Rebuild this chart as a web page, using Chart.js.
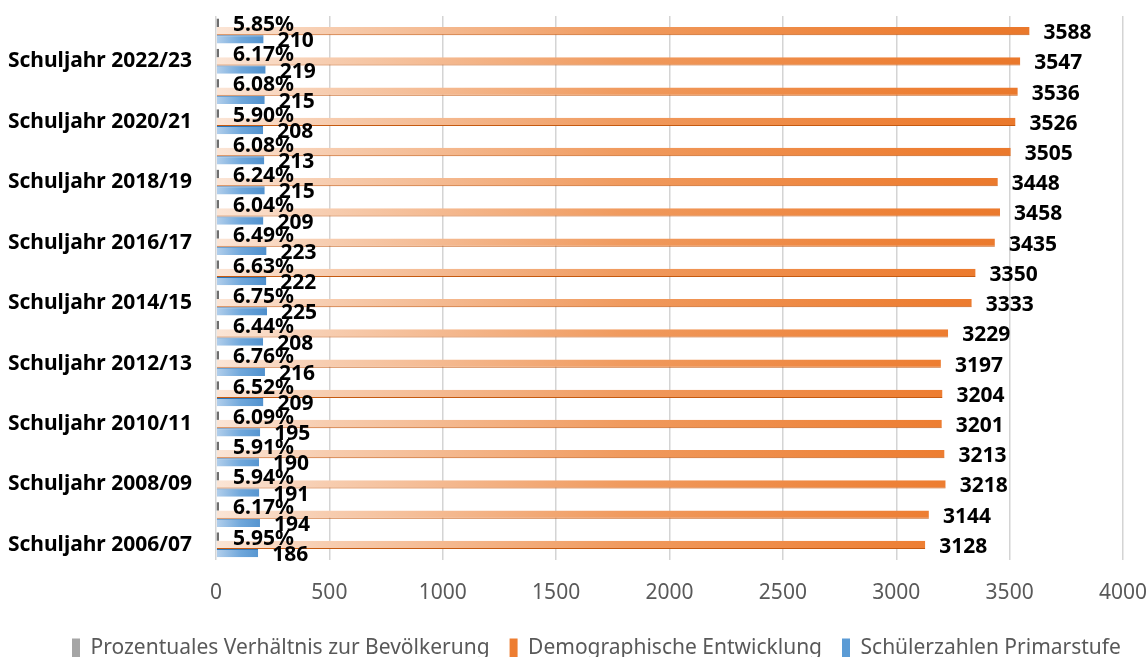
<!DOCTYPE html>
<html>
<head>
<meta charset="utf-8">
<script src="https://cdn.jsdelivr.net/npm/chart.js@4/dist/chart.umd.min.js"></script>
<style>
  html, body { margin: 0; padding: 0; background: #fff; }
  #wrap { width: 1146px; height: 657px; position: relative; }
</style>
</head>
<body>
<div id="wrap"><canvas id="chart"></canvas></div>
<script>
// Schuljahre, aelteste zuerst
var jahre = ['2006/07', '2007/08', '2008/09', '2009/10', '2010/11', '2011/12', '2012/13', '2013/14', '2014/15',
             '2015/16', '2016/17', '2017/18', '2018/19', '2019/20', '2020/21', '2021/22', '2022/23', '2023/24'];
var prozent = [5.95, 6.17, 5.94, 5.91, 6.09, 6.52, 6.76, 6.44, 6.75, 6.63, 6.49, 6.04, 6.24, 6.08, 5.90, 6.08, 6.17, 5.85];
var bevoelkerung = [3128, 3144, 3218, 3213, 3201, 3204, 3197, 3229, 3333, 3350, 3435, 3458, 3448, 3505, 3526, 3536, 3547, 3588];
var schueler = [186, 194, 191, 190, 195, 209, 216, 208, 225, 222, 223, 209, 215, 213, 208, 215, 219, 210];
var xTicks = [0, 500, 1000, 1500, 2000, 2500, 3000, 3500, 4000];

var serienNamen = ['Prozentuales Verhältnis zur Bevölkerung', 'Demographische Entwicklung', 'Schülerzahlen Primarstufe'];
var legendFarben = ['#a5a5a5', '#ED7D31', '#5B9BD5'];

// Excel zeichnet die erste Kategorie unten -> umdrehen
function rev(a) { return a.slice().reverse(); }
var labels = rev(jahre).map(function(j) { return 'Schuljahr ' + j; });

var FONT = '"Noto Sans", "Open Sans", sans-serif';
var LEGEND_PAD = 20;

function orangeFill(c) {
    var chart = c.chart, area = chart.chartArea;
    if (!area) return '#ED7D31';
    var g = chart.ctx.createLinearGradient(area.left, 0, area.right, 0);
    g.addColorStop(0, '#fbe5d6');
    g.addColorStop(0.12, '#f7cdb0');
    g.addColorStop(0.45, '#f09a5e');
    g.addColorStop(0.8, '#ED7D31');
    g.addColorStop(1, '#e57225');
    return g;
}
function blueFill(c) {
    var chart = c.chart, area = chart.chartArea;
    if (!area) return '#5B9BD5';
    var g = chart.ctx.createLinearGradient(area.left, 0, area.left + 50, 0);
    g.addColorStop(0, '#b4d0ec');
    g.addColorStop(0.5, '#6fa7db');
    g.addColorStop(1, '#4e8fcc');
    return g;
}

var barLabels = {
    id: 'barLabels',
    afterDatasetsDraw: function(chart) {
        var ctx = chart.ctx;
        ctx.save();
        ctx.font = 'bold 21px ' + FONT;
        ctx.fillStyle = '#000';
        ctx.textBaseline = 'middle';
        ctx.textAlign = 'left';
        chart.data.datasets.forEach(function(ds, i) {
            chart.getDatasetMeta(i).data.forEach(function(bar, j) {
                var v = ds.data[j];
                var txt = i === 0 ? v.toFixed(2) + '%' : String(v);
                ctx.fillText(txt, bar.x + 14, bar.y + 2);
            });
        });
        ctx.restore();
    }
};

// Legende wie im Original: links bei x=72 beginnen, etwas tiefer
var legendShift = {
    id: 'legendShift',
    afterLayout: function(chart) {
        var lg = chart.legend;
        if (!lg) return;
        var w = lg.right - lg.left;
        lg.left = 72 - LEGEND_PAD;
        lg.right = lg.left + w;
        lg.top += 12; lg.bottom += 12;
    }
};

new Chart(document.getElementById('chart'), {
    type: 'bar',
    data: {
        labels: labels,
        datasets: [
            { label: serienNamen[0], data: rev(prozent), backgroundColor: '#6f6f6f', minBarLength: 3 },
            { label: serienNamen[1], data: rev(bevoelkerung), backgroundColor: orangeFill,
              borderColor: '#c55a11', borderWidth: { bottom: 1 }, borderSkipped: 'start' },
            { label: serienNamen[2], data: rev(schueler), backgroundColor: blueFill,
              borderColor: '#2e75b6', borderWidth: { top: 1 }, borderSkipped: 'start' }
        ]
    },
    options: {
        indexAxis: 'y',
        responsive: true,
        maintainAspectRatio: false,
        animation: false,
        categoryPercentage: 0.82,
        barPercentage: 1,
        layout: { padding: { top: 16, right: 23, left: 0, bottom: 0 } },
        scales: {
            x: {
                min: 0, max: 4000,
                afterBuildTicks: function(scale) {
                    scale.ticks = xTicks.map(function(v) { return { value: v }; });
                },
                afterFit: function(scale) {
                    scale.height = 46;
                    scale.paddingLeft = 0; scale.paddingRight = 0;
                },
                grid: { color: '#d4d4d4', lineWidth: 1.5, drawTicks: false },
                border: { display: false },
                ticks: {
                    color: '#595959', padding: 20, maxRotation: 0, autoSkip: false,
                    font: { family: FONT, size: 21 },
                    callback: function(v) { return String(v); }
                }
            },
            y: {
                afterFit: function(scale) {
                    scale.width = 216;
                    scale.paddingTop = 0; scale.paddingBottom = 0;
                },
                grid: { display: false },
                border: { display: false },
                ticks: {
                    autoSkip: false,
                    padding: 16,
                    color: '#000',
                    font: { family: FONT, size: 21, weight: 'bold' },
                    callback: function(v, i) { return i % 2 === 1 ? this.getLabelForValue(v) : ''; }
                }
            }
        },
        plugins: {
            legend: {
                position: 'bottom',
                align: 'start',
                labels: {
                    color: '#595959',
                    boxWidth: 8,
                    boxHeight: 20,
                    padding: LEGEND_PAD,
                    font: { family: FONT, size: 21 },
                    generateLabels: function(chart) {
                        return chart.data.datasets.map(function(ds, i) {
                            return {
                                text: ds.label,
                                fillStyle: legendFarben[i],
                                strokeStyle: legendFarben[i],
                                lineWidth: 0,
                                fontColor: '#595959',
                                hidden: false,
                                datasetIndex: i
                            };
                        });
                    }
                }
            },
            tooltip: { enabled: false }
        }
    },
    plugins: [barLabels, legendShift]
});
</script>
</body>
</html>
